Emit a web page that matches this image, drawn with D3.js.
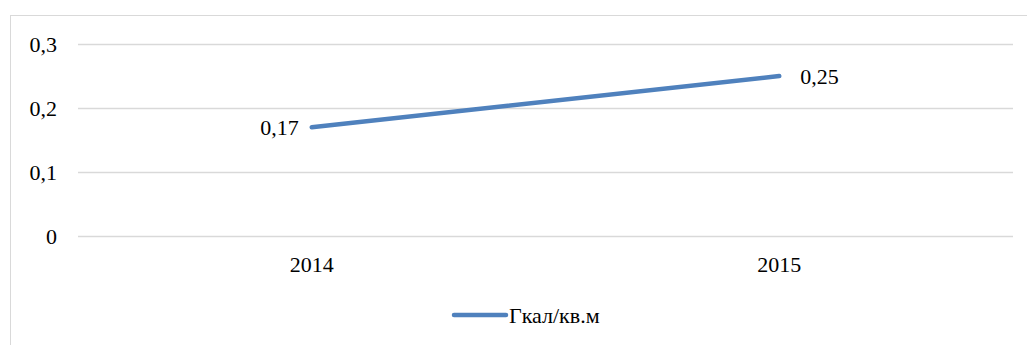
<!DOCTYPE html>
<html>
<head>
<meta charset="utf-8">
<script src="https://cdnjs.cloudflare.com/ajax/libs/d3/7.8.5/d3.min.js"></script>
</head>
<body style="margin:0;background:#fff">
<div id="chart"></div>
<script>
const years = ["2014", "2015"];
const values = [0.17, 0.25];
const yTicks = [0, 0.1, 0.2, 0.3];
const seriesName = "Гкал/кв.м";

const width = 1027;
const height = 345;
const margin = { top: 44, right: 14, bottom: 109, left: 78 };
const innerW = width - margin.left - margin.right;
const innerH = height - margin.top - margin.bottom;

const LINE_COLOR = "#4f81bd";
const GRID_COLOR = "#d9d9d9";
const FONT = "Liberation Serif";
const FONT_SIZE = 22;

const svg = d3.select("#chart").append("svg")
  .attr("width", width)
  .attr("height", height)
  .attr("font-family", FONT)
  .attr("font-size", FONT_SIZE);

// outer chart frame
svg.append("rect")
  .attr("x", 10.5)
  .attr("y", 15.5)
  .attr("width", width + 10)
  .attr("height", height)
  .attr("fill", "none")
  .attr("stroke", GRID_COLOR)
  .attr("stroke-width", 1);

const g = svg.append("g")
  .attr("transform", `translate(${margin.left},${margin.top})`);

const x = d3.scaleBand().domain(years).range([0, innerW]);
const y = d3.scaleLinear().domain([0, 0.3]).range([innerH, 0]);

const fmt = d => d3.format(".2~f")(d).replace(".", ",");

// gridlines
const yAxisG = g.append("g")
  .call(d3.axisLeft(y).tickValues(yTicks).tickSize(-innerW).tickFormat(""));
yAxisG.select(".domain").remove();
yAxisG.selectAll(".tick line").attr("stroke", GRID_COLOR).attr("stroke-width", 1.5);

// y tick labels
g.selectAll("text.ytick")
  .data(yTicks)
  .join("text")
  .attr("class", "ytick")
  .attr("x", -21)
  .attr("y", d => y(d))
  .attr("dy", "0.35em")
  .attr("text-anchor", "end")
  .attr("font-family", FONT)
  .attr("font-size", FONT_SIZE)
  .text(fmt);

// x tick labels
g.selectAll("text.xtick")
  .data(years)
  .join("text")
  .attr("class", "xtick")
  .attr("x", d => x(d) + x.bandwidth() / 2)
  .attr("y", innerH + 28)
  .attr("dy", "0.35em")
  .attr("text-anchor", "middle")
  .attr("font-family", FONT)
  .attr("font-size", FONT_SIZE)
  .text(d => d);

const pts = years.map((yr, i) => ({ yr, v: values[i] }));

g.append("path")
  .datum(pts)
  .attr("fill", "none")
  .attr("stroke", LINE_COLOR)
  .attr("stroke-width", 4.5)
  .attr("stroke-linecap", "round")
  .attr("d", d3.line()
    .x(d => x(d.yr) + x.bandwidth() / 2)
    .y(d => y(d.v)));

// data labels
g.selectAll("text.lbl")
  .data(pts)
  .join("text")
  .attr("class", "lbl")
  .attr("x", (d, i) => x(d.yr) + x.bandwidth() / 2 + (i === 0 ? -13 : 21))
  .attr("y", d => y(d.v))
  .attr("dy", "0.35em")
  .attr("text-anchor", (d, i) => i === 0 ? "end" : "start")
  .attr("font-family", FONT)
  .attr("font-size", FONT_SIZE)
  .text(d => fmt(d.v));

// legend
const legend = svg.append("g").attr("transform", "translate(454,315)");
legend.append("line")
  .attr("x1", 0).attr("x2", 52)
  .attr("stroke", LINE_COLOR)
  .attr("stroke-width", 4.5)
  .attr("stroke-linecap", "round");
legend.append("text")
  .attr("x", 55)
  .attr("dy", "0.35em")
  .attr("font-family", FONT)
  .attr("font-size", FONT_SIZE)
  .text(seriesName);
</script>
</body>
</html>
